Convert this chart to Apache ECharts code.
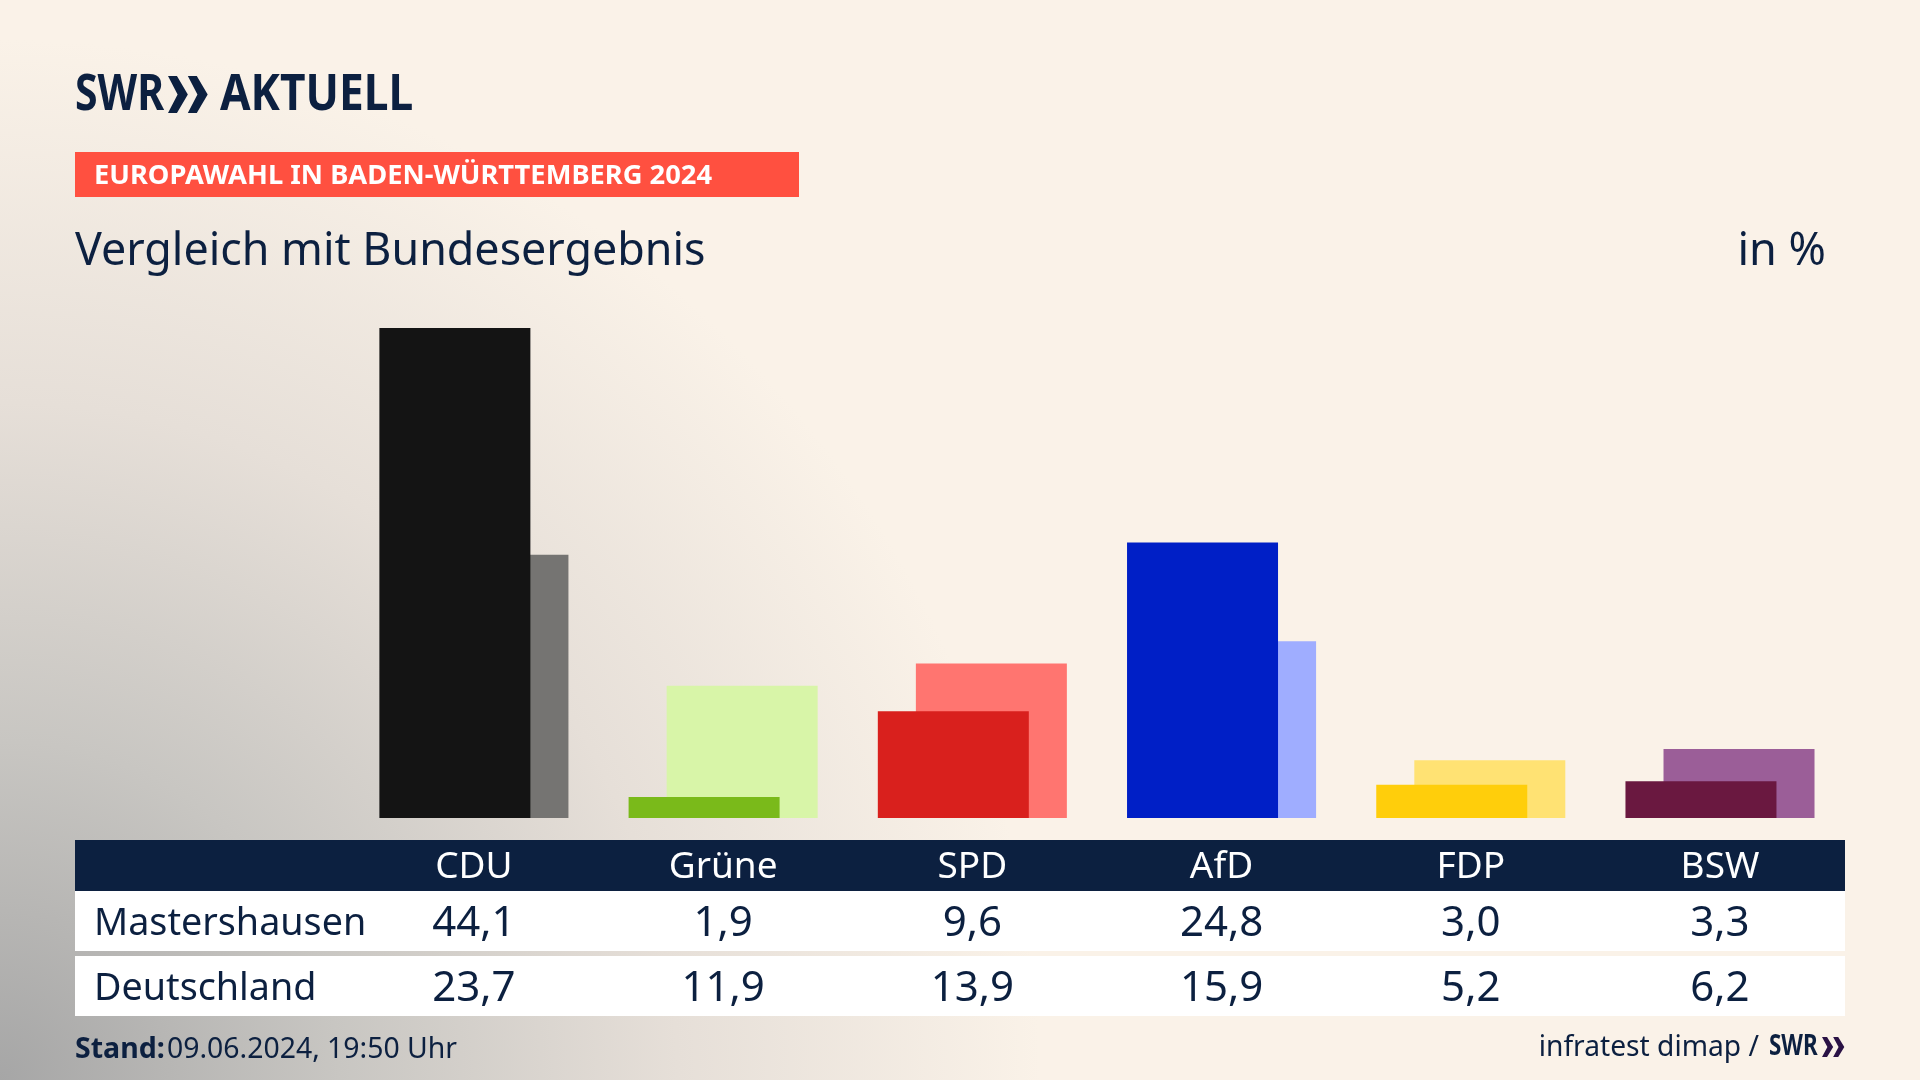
<!DOCTYPE html>
<html>
<head>
<meta charset="utf-8">
<title>Europawahl</title>
<script src="https://cdn.jsdelivr.net/npm/echarts@6/dist/echarts.min.js"></script>
<style>
html, body { margin: 0; padding: 0; }
#chart { width: 1920px; height: 1080px; }
</style>
</head>
<body>
<div id="chart"></div>
<script>
var parties = ["CDU", "Grüne", "SPD", "AfD", "FDP", "BSW"];
var mastershausen = [44.1, 1.9, 9.6, 24.8, 3.0, 3.3];
var deutschland = [23.7, 11.9, 13.9, 15.9, 5.2, 6.2];
var darkColors = ["#141414", "#7aba1a", "#d9201d", "#001fc6", "#ffce0b", "#6a1840"];
var lightColors = ["#757472", "#d8f5a8", "#ff7570", "#9fadff", "#ffe273", "#9b5e98"];

var navy = "#0c2040";
var font = '"Noto Sans", sans-serif';
var chart = echarts.init(document.getElementById("chart"));

function colored(values, colors) {
    return values.map(function (v, i) {
        return { value: v, itemStyle: { color: colors[i] } };
    });
}

function txt(text, x, y, size, opts) {
    opts = opts || {};
    return {
        type: "text",
        z: 10,
        x: x,
        y: y,
        scaleX: opts.scaleX || 1,
        style: {
            text: text,
            x: 0,
            y: 0,
            fill: opts.fill || navy,
            font: (opts.weight || "normal") + " " + size + "px " + font,
            textAlign: opts.align || "left",
            textVerticalAlign: "middle"
        }
    };
}

function rect(x, y, w, h, fill) {
    return { type: "rect", z: 1, shape: { x: x, y: y, width: w, height: h }, style: { fill: fill } };
}

// the two chevrons of the SWR logo
function chevrons(x, y, w, h, fill) {
    var out = [];
    [0, 0.62].forEach(function (dx) {
        var l = x + dx * w;
        out.push({
            type: "polygon",
            z: 10,
            shape: { points: [[l, y], [l + w * 0.28, y], [l + w * 0.62, y + h / 2], [l + w * 0.28, y + h], [l, y + h], [l + w * 0.3, y + h / 2]] },
            style: { fill: fill }
        });
    });
    return out;
}

chart.setOption({
    backgroundColor: {
        type: "radial",
        x: 0,
        y: 1,
        r: 1.12,
        colorStops: [
            { offset: 0, color: "#a6a6a6" },
            { offset: 0.28, color: "#c8c6c2" },
            { offset: 0.56, color: "#e6dfd8" },
            { offset: 0.86, color: "#faf2e8" },
            { offset: 1, color: "#faf2e8" }
        ]
    },
    animation: false,
    grid: { left: 349.3, right: 75.4, top: 318, bottom: 262 },
    xAxis: {
        type: "category",
        data: parties,
        z: 5,
        axisLine: { show: false },
        axisTick: { show: false },
        axisLabel: { color: "#ffffff", fontSize: 37, fontFamily: font, margin: 31, interval: 0 }
    },
    yAxis: { type: "value", show: false, min: 0, max: 45 },
    series: [
        { name: "Mastershausen", type: "bar", z: 3, barWidth: 151, barGap: "-74.8%", data: colored(mastershausen, darkColors) },
        { name: "Deutschland", type: "bar", z: 2, barWidth: 151, data: colored(deutschland, lightColors) }
    ]
});

// table rows and header texts, placed on the category scale
var graphics = [
    rect(75, 152, 724, 45, "#ff5040"),
    rect(75, 840, 1770, 51, navy),
    rect(75, 891, 1770, 60, "#ffffff"),
    rect(75, 956, 1770, 60, "#ffffff"),
    txt("SWR", 75, 96, 50, { weight: "bold", scaleX: 0.82 }),
    txt("AKTUELL", 220, 96, 50, { weight: "bold", scaleX: 0.885 }),
    txt("EUROPAWAHL IN BADEN-WÜRTTEMBERG 2024", 94, 176, 27.3, { weight: "bold", fill: "#ffffff" }),
    txt("Vergleich mit Bundesergebnis", 75, 252, 44.8),
    txt("in %", 1826, 252, 45, { align: "right" }),
    txt("Mastershausen", 94, 924, 37.7),
    txt("Deutschland", 94, 989, 37.7),
    txt("Stand:", 75, 1050, 28.5, { weight: "bold" }),
    txt("09.06.2024, 19:50 Uhr", 167, 1050, 28.4),
    txt("infratest dimap /", 1759, 1048, 28.2, { align: "right" }),
    txt("SWR", 1769, 1047, 28, { weight: "bold", scaleX: 0.8 })
].concat(chevrons(168, 76, 32, 37, navy), chevrons(1822, 1037, 18, 20, "#2a1245"));

parties.forEach(function (p, i) {
    var cx = chart.convertToPixel({ xAxisIndex: 0 }, i);
    graphics.push(txt(mastershausen[i].toFixed(1).replace(".", ","), cx, 924, 42, { align: "center" }));
    graphics.push(txt(deutschland[i].toFixed(1).replace(".", ","), cx, 989, 42, { align: "center" }));
});

chart.setOption({ graphic: graphics });
</script>
</body>
</html>
